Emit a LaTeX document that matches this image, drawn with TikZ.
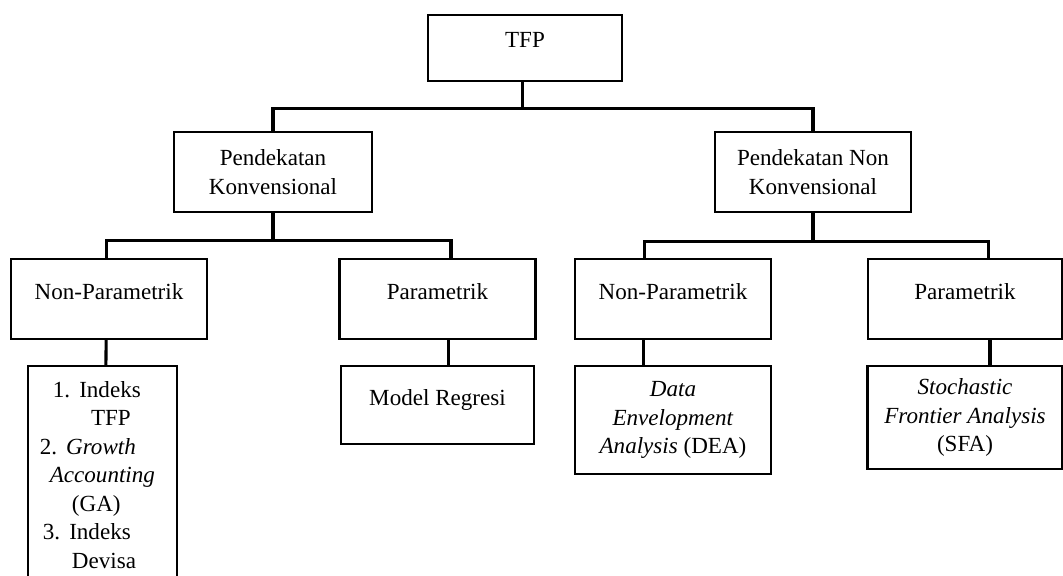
\documentclass[tikz,border=0pt]{standalone}
\usepackage{fontspec}
\setmainfont{Liberation Serif}
\usepackage{tikz}
\usetikzlibrary{positioning}

\begin{document}
\begin{tikzpicture}[
  x=0.52pt, y=-0.52pt,
  node distance=13pt,
  box/.style={draw,rectangle,line width=1.2pt,align=center,inner sep=2pt,
    minimum width=102pt,minimum height=41.5pt,
    font=\fontsize{12}{14.8}\selectfont},
  oneline/.style={text depth=8pt},
  link/.style={line width=1.6pt}
    ]
\useasboundingbox (0,0) rectangle (1063,576);
\clip (0,0) rectangle (1063,576);

\node[box,oneline,anchor=north,minimum width=101pt,minimum height=34.3pt] (tfp) at (525,14) {TFP};
\node[box,anchor=north,minimum width=103pt] (pk) at (273,131) {Pendekatan\\Konvensional};
\node[box,anchor=north] (pnk) at (813,131) {Pendekatan Non\\Konvensional};
\node[box,oneline,anchor=north] (npl) at (109,258) {Non-Parametrik};
\node[box,oneline,anchor=north] (pl) at (437.5,258) {Parametrik};
\node[box,oneline,anchor=north] (npr) at (673,258) {Non-Parametrik};
\node[box,oneline,anchor=north,minimum width=101pt] (pr) at (965,258) {Parametrik};
\node[box,below=of npl,xshift=-3.4pt,align=left,text width=77.5pt,
  minimum width=0pt,inner xsep=0pt,inner ysep=7.8pt] (list) {%
  \hspace*{13pt}1.\hspace{4.7pt}Indeks\\
  \hspace*{32.8pt}TFP\\
  \hspace*{6.2pt}2.\hspace{4.7pt}\textit{Growth}\\
  \hspace*{11.4pt}\textit{Accounting}\\
  \hspace*{22.9pt}(GA)\\
  \hspace*{7.8pt}3.\hspace{4.7pt}Indeks\\
  \hspace*{22.9pt}Devisa\\
  \strut};
\node[box,oneline,below=of pl,minimum width=100.4pt,minimum height=40.6pt] (mr) {Model Regresi};
\node[box,below=of npr,minimum height=56.2pt] (dea) {\textit{Data}\\\textit{Envelopment}\\\textit{Analysis} (DEA)};
\node[box,below=of pr,minimum width=101.4pt,minimum height=53.6pt] (sfa) {\textit{Stochastic}\\\textit{Frontier Analysis}\\(SFA)};

\draw[link] ([xshift=-1.5pt]tfp.south) -- ++(0,26) -| (pk.north);
\draw[link] ([xshift=-1.5pt]tfp.south) ++(0,26) -| (pnk.north);
\draw[link] (pk.south) -- ++(0,27) -| ([xshift=-1.5pt]npl.north);
\draw[link] (pk.south) ++(0,27) -| ([xshift=7pt]pl.north);
\draw[link] (pnk.south) -- ++(0,28) -| ([xshift=-15pt]npr.north);
\draw[link] (pnk.south) ++(0,28) -| ([xshift=12pt]pr.north);
\draw[link] ([xshift=-1.5pt]npl.south) -- ([xshift=1.8pt]list.north);
\draw[link] ([xshift=5.5pt]pl.south) -- ([xshift=5.5pt]mr.north);
\draw[link] ([xshift=-15.5pt]npr.south) -- ([xshift=-15.5pt]dea.north);
\draw[link] ([xshift=13pt]pr.south) -- ([xshift=13pt]sfa.north);

\end{tikzpicture}
\end{document}
